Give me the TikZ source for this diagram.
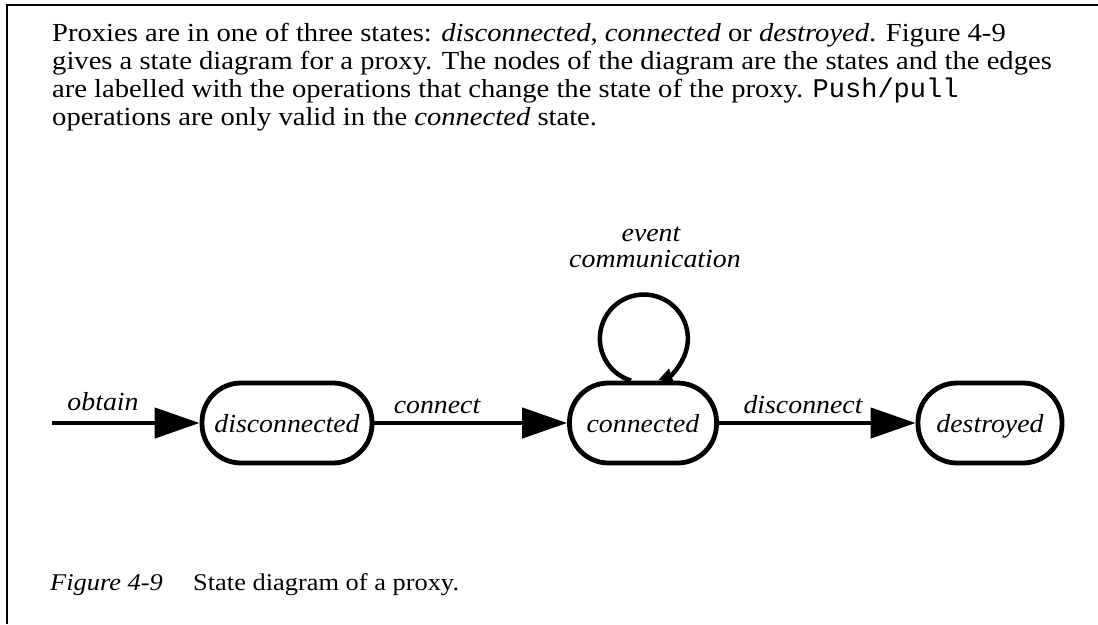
\documentclass[tikz,border=0pt]{standalone}
\usepackage{fontspec}
\setmainfont{Liberation Serif}
\setmonofont{Liberation Mono}
% slightly widened Times-like faces for the page text and the diagram labels
\newfontfamily\pagefont{Liberation Serif}[FakeStretch=1.1]
\newfontfamily\labelfont{Liberation Serif}[FakeStretch=1.07]
\usetikzlibrary{arrows.meta,calc}
\begin{document}
\begin{tikzpicture}[x=1pt,y=-1pt,
  state/.style={draw, line width=4.8pt, rounded corners=39pt, minimum height=80pt,
    inner sep=0pt, text height=22pt, text depth=4pt,
    font=\labelfont\fontsize{26}{28}\selectfont\itshape},
  trans/.style={line width=4.5pt, -{Triangle[length=45pt,width=30pt]}},
  lbl/.style={font=\labelfont\fontsize{26}{28}\selectfont\itshape, inner sep=0pt, anchor=base},
  body/.style={font=\pagefont\fontsize{26}{28}\selectfont, inner sep=0pt, anchor=base west},
  capt/.style={inner sep=0pt, anchor=base west},
  frame/.style={line width=2pt}]
\useasboundingbox (0,0) rectangle (1098,624);

% page frame
\coordinate (ftl) at (7,5);
\coordinate (ftr) at (1098,5);
\coordinate (fbl) at (7,624);
\draw[frame] (ftr) -- (ftl) -- (fbl);

% paragraph
\node[body] (p1) at (52,41) {Proxies are in one of three states: \textit{disconnected}, \textit{connected} or \textit{destroyed}. Figure 4-9};
\node[body] (p2) at (52,69) {gives a state diagram for a proxy. The nodes of the diagram are the states and the edges};
\node[body] (p3) at (52,97) {are labelled with the operations that change the state of the proxy. \texttt{\fontsize{27}{28}\selectfont Push/pull}};
\node[body] (p4) at (52,125) {operations are only valid in the \textit{connected} state.};

% states
\node[state, minimum width=170pt] (dis) at (287,423) {disconnected};
\node[state, minimum width=147pt] (con) at (643,423) {connected};
\node[state, minimum width=144pt] (des) at (990,423) {destroyed};

% transitions
\coordinate (start) at (52,423);
\draw[trans] (start) -- (dis);
\draw[trans] (dis) -- (con);
\draw[trans] (con) -- (des);
\draw[line width=4.5pt, -{Triangle[length=14pt,width=14pt]}]
  ($(con.north)+(-12,0)$) arc[start angle=107, end angle=431, radius=44];

% transition labels
\node[lbl] (lobtain) at (103,410) {obtain};
\node[lbl] (lconnect) at (437,413) {connect};
\node[lbl] (ldisconnect) at (803,413) {disconnect};
\node[lbl] (levent) at (651,241) {event};
\node[lbl] (lcomm) at (655,267) {communication};

% caption
\node[capt, font=\pagefont\fontsize{24}{26}\selectfont\itshape] (figno) at (50,590) {Figure 4-9};
\node[capt, font=\pagefont\fontsize{24}{26}\selectfont] (figtitle) at (193,590) {State diagram of a proxy.};
\end{tikzpicture}
\end{document}
